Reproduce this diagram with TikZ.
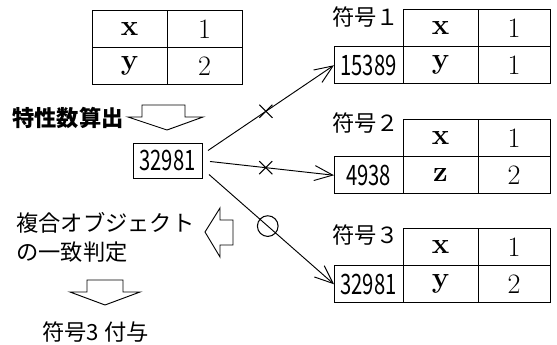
\documentclass[tikz,border=0pt]{standalone}
\usepackage{fontspec}
\usepackage{graphicx}
\usepackage{tikz}
\usetikzlibrary{arrows.meta, positioning, shapes.misc}
\newfontfamily\jpfont{Noto Sans CJK JP}
\newcommand{\numtxt}[1]{\scalebox{0.72}[1]{\jpfont\fontsize{24}{26}\selectfont #1}}
\tikzset{
  cell/.style={rectangle, draw, line width=0.8pt, inner sep=0pt, outer sep=0pt,
    minimum width=2.25cm, minimum height=1.11cm},
  valcell/.style={cell, minimum width=2.16cm},
  keycell/.style={cell, minimum width=2.07cm},
  vartxt/.style={font=\fontsize{25}{28}\selectfont\bfseries},
  numtxt/.style={font=\fontsize{24}{28}\selectfont},
  jptxt/.style={font=\jpfont\fontsize{19}{21}\selectfont, inner sep=0pt},
  link/.style={line width=0.8pt, -{Straight Barb[length=0.55cm, width=0.45cm]}},
  crossmark/.style={cross out, draw, line width=0.9pt, minimum size=0.36cm, inner sep=0pt},
  okmark/.style={circle, draw, line width=0.9pt, minimum size=0.62cm, inner sep=0pt},
  blockarrow/.style={line width=0.8pt, line join=miter}
}

\begin{document}
\begin{tikzpicture}[x=0.03cm, y=-0.03cm]
  \useasboundingbox (0,0) rectangle (557,345);

  % Source object
  \node[cell, vartxt] (sx) at (129.5,29) {x};
  \node[cell, numtxt, right=0pt of sx] (s1) {1};
  \node[cell, vartxt, below=0pt of sx] (sy) {y};
  \node[cell, numtxt, below=0pt of s1] (s2) {2};

  % Feature value calculation
  \node[jptxt, font=\jpfont\fontsize{19}{21}\selectfont\bfseries, anchor=west] (calc) at (12,118) {特性数算出};
  \draw[blockarrow] (142,105) -- (185,105) -- (185,117) -- (203,117) -- (167,130)
    -- (128,117) -- (142,117) -- cycle;
  \node[keycell, minimum height=1.05cm] (num) at (167.5,160.5) {\numtxt{32981}};

  % Registered objects
  \node[cell, vartxt] (ax) at (440.5,28.25) {x};
  \node[valcell, numtxt, right=0pt of ax] (a1) {1};
  \node[cell, vartxt, below=0pt of ax] (ay) {y};
  \node[valcell, numtxt, below=0pt of a1] (a2) {1};
  \node[keycell, left=0pt of ay] (k1) {\numtxt{15389}};
  \node[jptxt, anchor=west] (lab1) at (332,17.5) {符号１};

  \node[cell, vartxt] (bx) at (440.5,138.25) {x};
  \node[valcell, numtxt, right=0pt of bx] (b1) {1};
  \node[cell, vartxt, below=0pt of bx] (bz) {z};
  \node[valcell, numtxt, below=0pt of b1] (b2) {2};
  \node[keycell, left=0pt of bz] (k2) {\numtxt{4938}};
  \node[jptxt, anchor=west] (lab2) at (332,123) {符号２};

  \node[cell, vartxt] (cx) at (440.5,247.25) {x};
  \node[valcell, numtxt, right=0pt of cx] (c1) {1};
  \node[cell, vartxt, below=0pt of cx] (cy) {y};
  \node[valcell, numtxt, below=0pt of c1] (c2) {2};
  \node[keycell, left=0pt of cy] (k3) {\numtxt{32981}};
  \node[jptxt, anchor=west] (lab3) at (332,235) {符号３};

  % Comparison
  \draw[link] ([shift={(6,-10)}]num.east) -- node[pos=0.46, crossmark] {} (k1.west);
  \draw[link] ([shift={(8,1)}]num.east) -- node[pos=0.45, crossmark] {} (k2.west);
  \draw[link] ([shift={(7,14)}]num.east) -- node[pos=0.47, okmark] {} (k3.west);

  % Match decision
  \node[jptxt, anchor=west] (match1) at (16,223) {複合オブジェクト};
  \node[jptxt, anchor=west] (match2) at (16,252) {の一致判定};
  \draw[blockarrow] (233,220) -- (233,245) -- (220,245) -- (220,257) -- (205,232)
    -- (220,208) -- (220,220) -- cycle;

  % Result
  \draw[blockarrow] (87,280) -- (123,280) -- (123,292) -- (140,292) -- (105,305)
    -- (70,292) -- (87,292) -- cycle;
  \node[jptxt, anchor=west] (result) at (42,332) {符号3 付与};
\end{tikzpicture}
\end{document}
